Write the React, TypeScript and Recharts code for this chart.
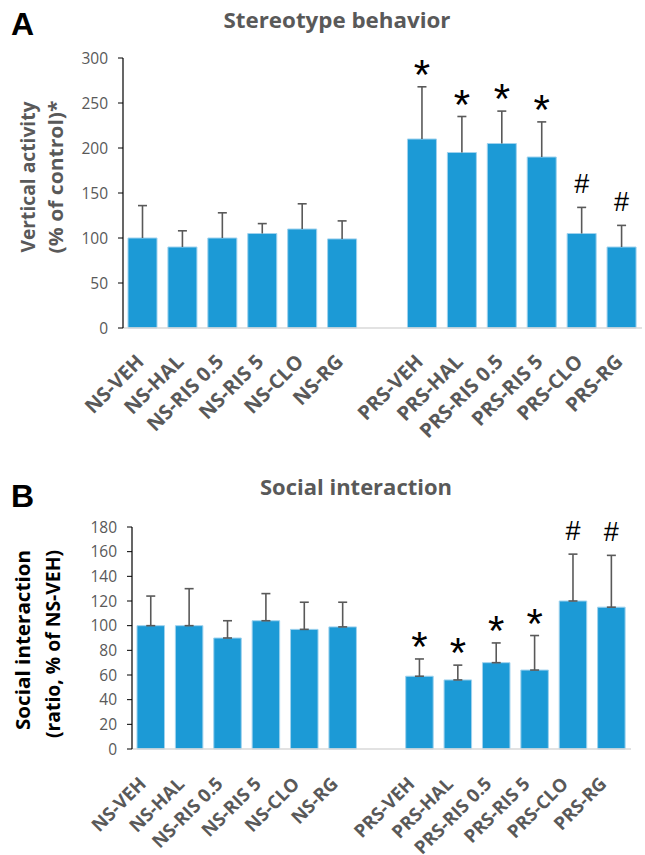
import { BarChart, Bar, XAxis, YAxis, LabelList } from "recharts";

const categories = [
  "NS-VEH", "NS-HAL", "NS-RIS 0.5", "NS-RIS 5", "NS-CLO", "NS-RG", "",
  "PRS-VEH", "PRS-HAL", "PRS-RIS 0.5", "PRS-RIS 5", "PRS-CLO", "PRS-RG",
];

const stereoMean = [100, 90, 100, 105, 110, 99, null, 210, 195, 205, 190, 105, 90];
const stereoSD = [36, 18, 28, 11, 28, 20, null, 58, 40, 36, 39, 29, 24];
const stereoTicks = [0, 50, 100, 150, 200, 250, 300];

const socialMean = [100, 100, 90, 104, 97, 99, null, 59, 56, 70, 64, 120, 115];
const socialSD = [24, 30, 14, 22, 22, 20, null, 14, 12, 16, 28, 38, 42];
const socialTicks = [0, 20, 40, 60, 80, 100, 120, 140, 160, 180];

const marks = ["", "", "", "", "", "", "", "*", "*", "*", "*", "#", "#"];

const BLUE = "#1c9ad6";
const GREY = "#595959";
const FONT = "'Open Sans', sans-serif";

const build = (mean: (number | null)[], sd: (number | null)[]) =>
  categories.map((name, i) => ({ name, mean: mean[i], sd: sd[i], mark: marks[i] }));

const stereoData = build(stereoMean, stereoSD);
const socialData = build(socialMean, socialSD);

// whisker drawn from the stacked sd segment
const whisker = (bottomCap: boolean) => (props: any) => {
  const { x, y, width, height } = props;
  if (!height || height <= 0) return <g />;
  const cx = x + width / 2;
  return (
    <g stroke={GREY} strokeWidth={1.6}>
      <line x1={cx} x2={cx} y1={y + height} y2={y} />
      <line x1={cx - 4.5} x2={cx + 4.5} y1={y} y2={y} />
      {bottomCap && <line x1={cx - 4.5} x2={cx + 4.5} y1={y + height} y2={y + height} />}
    </g>
  );
};

const renderMark = (props: any) => {
  const { x, y, width, value } = props;
  if (!value) return null;
  const cx = x + width / 2;
  if (value === "*") {
    return (
      <text x={cx} y={y + 2} textAnchor="middle" fontFamily="'Liberation Sans', Arial" fontSize={42} fill="#000">
        *
      </text>
    );
  }
  return (
    <text x={cx} y={y - 14} textAnchor="middle" fontFamily="'Liberation Sans', Arial" fontSize={27} fill="#000">
      #
    </text>
  );
};

const xTick = (dx: number, dy: number, size: number) => (props: any) => {
  const { x, y, payload } = props;
  return (
    <text
      transform={`translate(${x + dx},${y + dy}) rotate(-45)`}
      textAnchor="end"
      fontFamily={FONT}
      fontWeight={700}
      fontSize={size}
      fill={GREY}
    >
      {payload.value}
    </text>
  );
};

export default function App() {
  return (
    <div style={{ position: "absolute", left: 0, top: 0, width: 645, height: 855, background: "#fff" }}>
      <div style={{ position: "absolute", left: 0, top: 0 }}>
        <BarChart
          width={645}
          height={440}
          data={stereoData}
          barSize={29}
          margin={{ top: 58, right: 3, bottom: 0, left: 63 }}
        >
          <XAxis
            dataKey="name"
            interval={0}
            tickLine={false}
            axisLine={{ stroke: "#d9d9d9", strokeWidth: 1.5 }}
            height={112}
            tick={xTick(2, 27, 20)}
          />
          <YAxis
            width={60}
            domain={[0, 300]}
            ticks={stereoTicks}
            interval={0}
            axisLine={{ stroke: "#000", strokeWidth: 1.2 }}
            tickLine={{ stroke: "#000" }}
            tickSize={5}
            tickMargin={10}
            tick={{ fill: GREY, fontSize: 15.5, fontFamily: FONT }}
          />
          <Bar dataKey="mean" stackId="a" fill={BLUE} stroke="#9fd2ee" strokeWidth={1} isAnimationActive={false} />
          <Bar dataKey="sd" stackId="a" fill="none" shape={whisker(false)} isAnimationActive={false}>
            <LabelList dataKey="mark" content={renderMark} />
          </Bar>
        </BarChart>
      </div>
      <div style={{ position: "absolute", left: 0, top: 470 }}>
        <BarChart
          width={645}
          height={385}
          data={socialData}
          barSize={27.5}
          margin={{ top: 57, right: 14, bottom: 0, left: 72 }}
        >
          <XAxis
            dataKey="name"
            interval={0}
            tickLine={false}
            axisLine={{ stroke: "#d9d9d9", strokeWidth: 1.5 }}
            height={106}
            tick={xTick(-4, 28, 18.5)}
          />
          <YAxis
            width={60}
            domain={[0, 180]}
            ticks={socialTicks}
            interval={0}
            axisLine={{ stroke: "#000", strokeWidth: 1.2 }}
            tickLine={{ stroke: "#000" }}
            tickSize={5}
            tickMargin={10}
            tick={{ fill: GREY, fontSize: 15.5, fontFamily: FONT }}
          />
          <Bar dataKey="mean" stackId="a" fill={BLUE} stroke="#9fd2ee" strokeWidth={1} isAnimationActive={false} />
          <Bar dataKey="sd" stackId="a" fill="none" shape={whisker(true)} isAnimationActive={false}>
            <LabelList dataKey="mark" content={renderMark} />
          </Bar>
        </BarChart>
      </div>
      <svg width={645} height={855} style={{ position: "absolute", left: 0, top: 0, pointerEvents: "none" }}>
        <g fontFamily={FONT} fontWeight={700}>
          <text x={11} y={35} fontFamily="'Liberation Sans', Arial" fontSize={32} fill="#000">A</text>
          <text x={11} y={507} fontFamily="'Liberation Sans', Arial" fontSize={32} fill="#000">B</text>
          <text x={337} y={28} textAnchor="middle" fontSize={22} fill={GREY} textLength={227} lengthAdjust="spacingAndGlyphs">
            Stereotype behavior
          </text>
          <text x={356} y={495} textAnchor="middle" fontSize={22} fill={GREY} textLength={192} lengthAdjust="spacingAndGlyphs">
            Social interaction
          </text>
          <text transform="translate(27,177) rotate(-90)" textAnchor="middle" dominantBaseline="central" fontSize={20} fill={GREY} textLength={151} lengthAdjust="spacingAndGlyphs">
            Vertical  activity
          </text>
          <text transform="translate(55,177) rotate(-90)" textAnchor="middle" dominantBaseline="central" fontSize={20} fill={GREY} textLength={153} lengthAdjust="spacingAndGlyphs">
            (% of control)*
          </text>
          <text transform="translate(22,640) rotate(-90)" textAnchor="middle" dominantBaseline="central" fontSize={20} fill="#000" textLength={180} lengthAdjust="spacingAndGlyphs">
            Social interaction
          </text>
          <text transform="translate(52,644) rotate(-90)" textAnchor="middle" dominantBaseline="central" fontSize={20} fill="#000" textLength={188} lengthAdjust="spacingAndGlyphs">
            (ratio, % of NS-VEH)
          </text>
        </g>
      </svg>
    </div>
  );
}
